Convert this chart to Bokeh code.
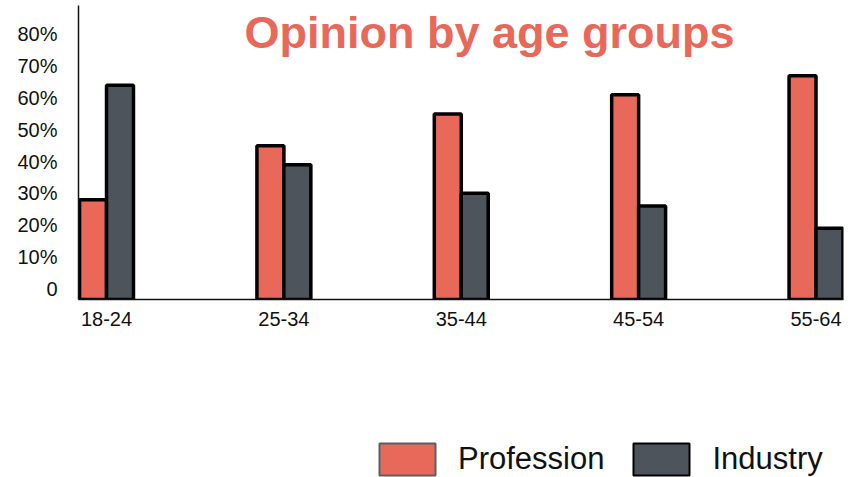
from bokeh.plotting import figure
from bokeh.layouts import column
from bokeh.models import (Range1d, FixedTicker, Label, Legend, LegendItem,
                          ColumnDataSource)
from bokeh.transform import dodge
from bokeh.embed import file_html
from bokeh.resources import INLINE

# Share of respondents per age group (percent)
age_groups = ["18-24", "25-34", "35-44", "45-54", "55-64"]
profession = [28, 45, 55, 61, 67]
industry = [64, 39, 30, 26, 19]

y_ticks = [0, 10, 20, 30, 40, 50, 60, 70, 80]
y_tick_labels = ["0", "10%", "20%", "30%", "40%", "50%", "60%", "70%", "80%"]

RED = "#E8685A"
SLATE = "#4D545C"
FONT = "Liberation Sans"

positions = list(range(len(age_groups)))
bar_w = 0.152

p = figure(width=860, height=340, output_backend="svg", toolbar_location=None,
           x_range=Range1d(-0.158, 4.155), y_range=Range1d(-3.4, 89.1),
           min_border_left=78, min_border_right=17, min_border_top=5,
           min_border_bottom=41)
p.outline_line_color = None
p.xgrid.visible = False
p.ygrid.visible = False

src = ColumnDataSource(dict(x=positions, profession=profession, industry=industry))

p.vbar(x=dodge("x", -bar_w / 2, range=p.x_range), top="profession",
       bottom=p.y_range.start, width=bar_w, source=src,
       fill_color=RED, line_color="black", line_width=3.5)
p.vbar(x=dodge("x", bar_w / 2, range=p.x_range), top="industry",
       bottom=p.y_range.start, width=bar_w, source=src,
       fill_color=SLATE, line_color="black", line_width=3.5)

# Axes
p.yaxis.ticker = FixedTicker(ticks=y_ticks)
p.yaxis.major_label_overrides = dict(zip(y_ticks, y_tick_labels))
p.xaxis.ticker = FixedTicker(ticks=positions)
p.xaxis.major_label_overrides = dict(zip(positions, age_groups))
for ax in (p.xaxis, p.yaxis):
    ax.axis_line_color = "#111111"
    ax.axis_line_width = 1.5
    ax.major_tick_line_color = None
    ax.minor_tick_line_color = None
    ax.major_tick_out = 0
    ax.major_tick_in = 0
    ax.major_label_text_font = FONT
    ax.major_label_text_font_size = "20px"
    ax.major_label_text_color = "#111111"
p.yaxis.major_label_text_align = "left"
p.yaxis.major_label_standoff = 21
p.xaxis.major_label_standoff = 12

# Heading drawn inside the frame
p.add_layout(Label(x=411, y=267, x_units="screen", y_units="screen",
                   text="Opinion by age groups", text_align="center",
                   text_baseline="alphabetic", text_font=FONT,
                   text_font_size="45px", text_font_style="bold",
                   text_color=RED))

# Legend strip underneath the chart; its swatch renderers stay hidden
lg = figure(width=860, height=137, output_backend="svg", toolbar_location=None,
            x_range=Range1d(0, 1), y_range=Range1d(0, 1),
            x_axis_location=None, y_axis_location=None, min_border=0)
lg.outline_line_color = None
lg.xgrid.visible = False
lg.ygrid.visible = False

sw_prof = lg.vbar(x="x", top="profession", width=0.1, source=src,
                  fill_color=RED, line_color="#5a5f66", line_width=2,
                  visible=False)
sw_ind = lg.vbar(x="x", top="industry", width=0.1, source=src,
                 fill_color=SLATE, line_color="black", line_width=2,
                 visible=False)
legend = Legend(items=[LegendItem(label="Profession", renderers=[sw_prof]),
                       LegendItem(label="Industry", renderers=[sw_ind])],
                orientation="horizontal", location=(294, -2),
                glyph_width=70, glyph_height=40, label_standoff=16,
                spacing=22, padding=0, margin=0,
                border_line_color=None, background_fill_alpha=0,
                inactive_fill_alpha=0,
                label_text_font=FONT, label_text_font_size="31px",
                label_text_color="#111111")
lg.add_layout(legend, "center")

open("out.html", "w").write(file_html(column(p, lg, spacing=0), INLINE))
